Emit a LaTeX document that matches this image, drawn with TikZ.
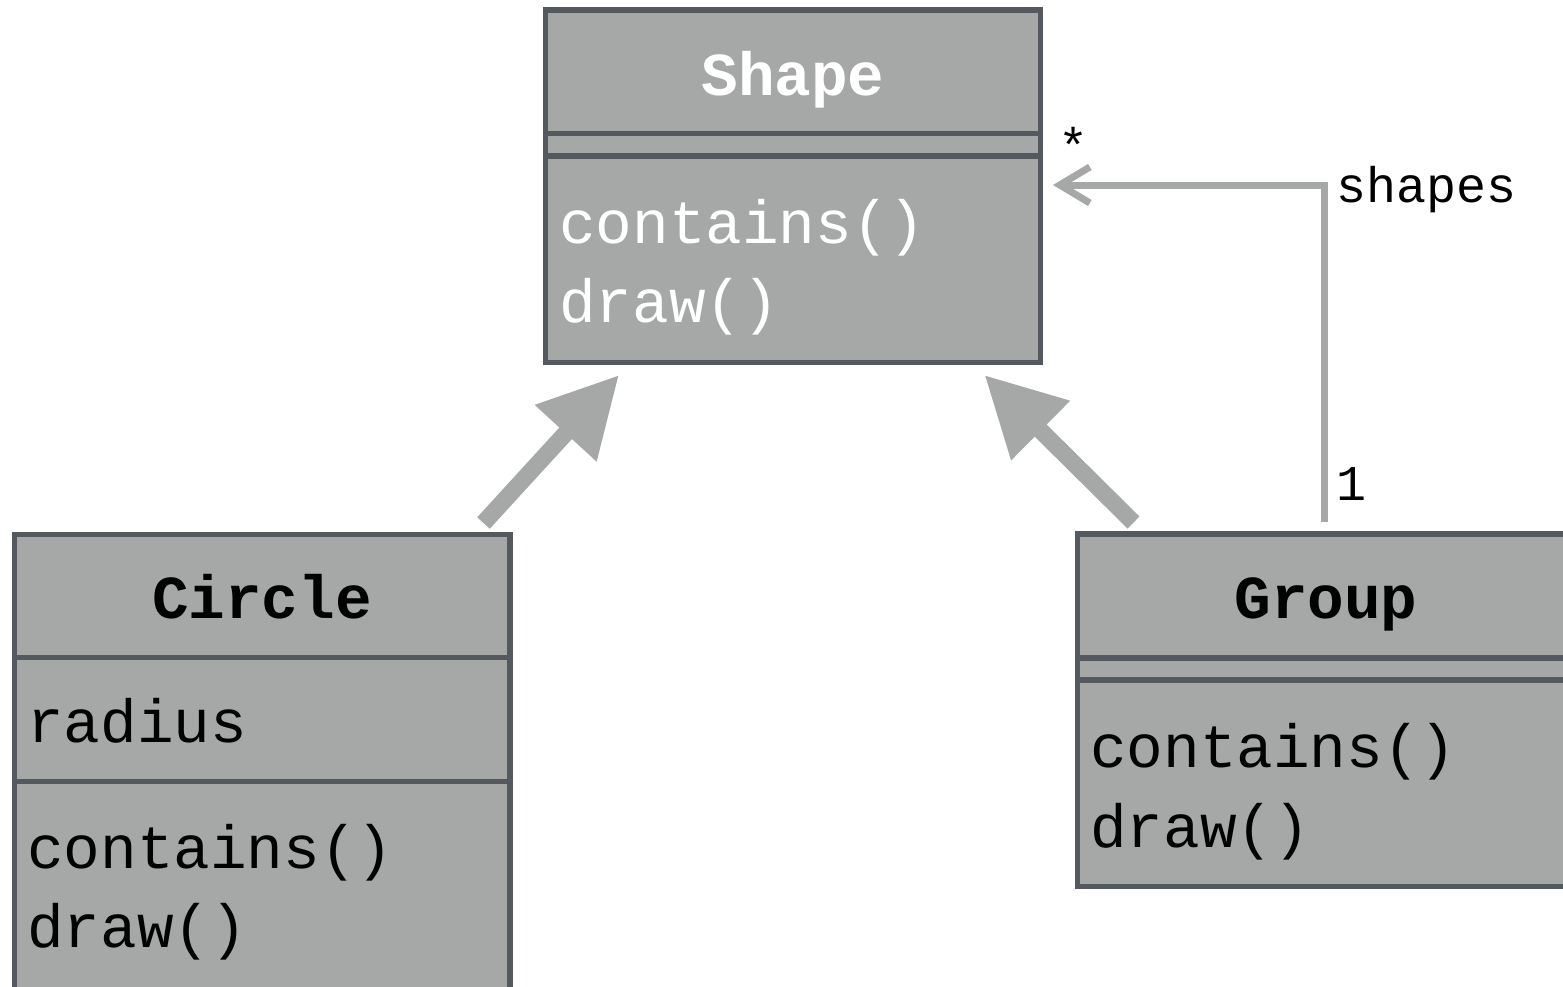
\documentclass[tikz,border=0pt]{standalone}
\usepackage{fontspec}
\setmonofont{Liberation Mono}
\usetikzlibrary{arrows.meta}
\definecolor{boxfill}{HTML}{A5A8A7}
\definecolor{boxline}{HTML}{54585F}
\definecolor{arrowgray}{HTML}{A5A8A7}
\tikzset{
  classbox/.style={draw=boxline, fill=boxfill, line width=5.5pt, rectangle, inner sep=0pt, outer sep=0pt, anchor=north west},
  divider/.style={draw=boxline, line width=5.5pt},
  titletext/.style={font=\ttfamily\bfseries\fontsize{61}{61}\selectfont, inner sep=0pt, anchor=base},
  membertext/.style={font=\ttfamily\fontsize{61}{61}\selectfont, inner sep=0pt, anchor=base west},
  labeltext/.style={font=\ttfamily\fontsize{50}{50}\selectfont, inner sep=0pt, text=black},
  inherit/.style={draw=arrowgray, line width=17pt, -{Triangle[length=79pt,width=79pt]}, fill=arrowgray},
  assoc/.style={draw=arrowgray, line width=7pt, -{Straight Barb[length=30pt,width=36pt]}},
}
\begin{document}
\begin{tikzpicture}[x=1pt,y=-1pt]
\useasboundingbox (0,0) rectangle (1563,986);
\fill[white] (0,0) rectangle (1563,986);
% class boxes
\node[classbox, minimum width=495pt, minimum height=352.5pt] (shape) at (545.5,10) {};
\node[classbox, minimum width=495.5pt, minimum height=460.5pt] (circle) at (14.5,534.5) {};
\node[classbox, minimum width=497pt, minimum height=352.5pt] (group) at (1077.5,534) {};
% dividers
\draw[divider] ([yshift=-123.5pt]shape.north west) -- ([yshift=-123.5pt]shape.north east);
\draw[divider] ([yshift=-146pt]shape.north west) -- ([yshift=-146pt]shape.north east);
\draw[divider] ([yshift=-123pt]circle.north west) -- ([yshift=-123pt]circle.north east);
\draw[divider] ([yshift=-247pt]circle.north west) -- ([yshift=-247pt]circle.north east);
\draw[divider] ([yshift=-124pt]group.north west) -- ([yshift=-124pt]group.north east);
\draw[divider] ([yshift=-146pt]group.north west) -- ([yshift=-146pt]group.north east);
% texts
\node[titletext, text=white] (shapetitle) at (793,95) {Shape};
\node[membertext, text=white] (shapem1) at (559,243) {contains()};
\node[membertext, text=white] (shapem2) at (559,322) {draw()};
\node[titletext, text=black] (circletitle) at (262,618) {Circle};
\node[membertext, text=black] (circlea1) at (27,742) {radius};
\node[membertext, text=black] (circlem1) at (27,868) {contains()};
\node[membertext, text=black] (circlem2) at (27,947) {draw()};
\node[titletext, text=black] (grouptitle) at (1326,618) {Group};
\node[membertext, text=black] (groupm1) at (1090,767) {contains()};
\node[membertext, text=black] (groupm2) at (1090,847) {draw()};
% connectors
\draw[inherit] ([xshift=469pt,yshift=11.5pt]circle.north west) -- ([xshift=73.5pt,yshift=-12.5pt]shape.south west);
\draw[inherit] ([xshift=56pt,yshift=11.5pt]group.north west) -- ([xshift=439pt,yshift=-12.5pt]shape.south west);
\draw[assoc] ([xshift=247pt,yshift=12.3pt]group.north west) |- ([xshift=12.5pt,yshift=-175pt]shape.north east);
% labels
\node[labeltext] (star) at (1073,145) {*};
\node[labeltext, anchor=base west] (shapeslabel) at (1336,202) {shapes};
\node[labeltext, anchor=base west] (onelabel) at (1336,500) {1};
\end{tikzpicture}
\end{document}
